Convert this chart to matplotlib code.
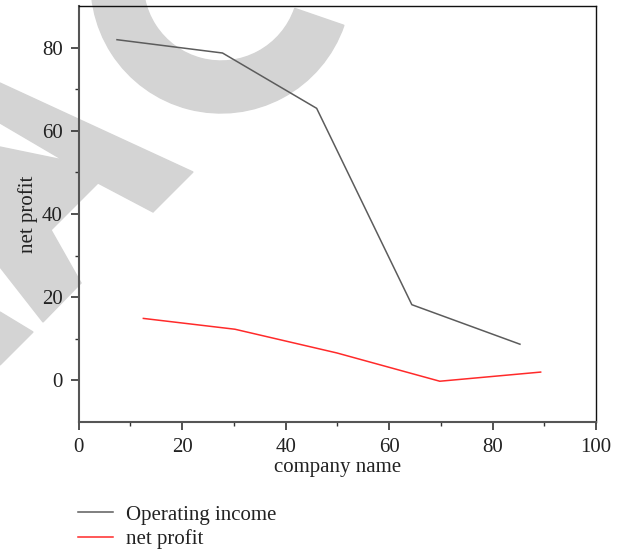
import matplotlib
matplotlib.use("Agg")
import matplotlib.pyplot as plt
from matplotlib.patches import Wedge, Polygon
from matplotlib.transforms import Affine2D

plt.rcParams['font.family'] = ['Liberation Serif', 'DejaVu Serif']

# data
income_x = [7.4, 27.8, 46.0, 64.4, 85.3]
income_y = [81.9, 78.7, 65.4, 18.2, 8.7]
profit_x = [12.5, 30.2, 49.9, 69.8, 89.3]
profit_y = [14.9, 12.3, 6.6, -0.2, 2.0]
labels = ["Operating income", "net profit"]

W, H = 624, 551
fig = plt.figure(figsize=(W / 100, H / 100), dpi=100)
ax = fig.add_axes([78.7 / W, 1 - 422 / H, (596 - 78.7) / W, (422 - 6) / H])
ax.set_facecolor('none')

# grey watermark behind the plot (pixel coords, y measured from top)
px = Affine2D().scale(1 / W, 1 / H) + fig.transFigure
wm = '#d4d4d4'
fig.add_artist(Wedge((221, H + 17), 130, 170, 341, width=52, color=wm,
                     transform=px, zorder=-1))
a_shape = [(0, 83), (193, 172), (153, 212), (98, 183), (51, 230), (81, 283),
           (43, 322), (0, 267), (0, 147), (63, 160), (0, 123)]
fig.add_artist(Polygon([(x, H - y) for x, y in a_shape], color=wm,
                       transform=px, zorder=-1))
tri = [(0, 312), (33, 332), (0, 365)]
fig.add_artist(Polygon([(x, H - y) for x, y in tri], color=wm,
                       transform=px, zorder=-1))

ax.plot(income_x, income_y, color='#5c5c5c', lw=1.1, label=labels[0])
ax.plot(profit_x, profit_y, color='#ff2a2a', lw=1.1, label=labels[1])

ax.set_xlim(0, 100)
ax.set_ylim(-10, 90)
ax.set_xticks([0, 20, 40, 60, 80, 100])
ax.set_yticks([0, 20, 40, 60, 80])
ax.set_xticks(range(10, 100, 20), minor=True)
ax.set_yticks(range(10, 90, 20), minor=True)

for s in ['left', 'bottom']:
    ax.spines[s].set_color('#555555')
    ax.spines[s].set_linewidth(1.5)
for s in ['top', 'right']:
    ax.spines[s].set_color('#111111')
    ax.spines[s].set_linewidth(1.0)

ax.tick_params(which='major', length=5.5, width=1.2, color='#333333',
               labelsize=15, labelcolor='#222222', pad=6)
ax.tick_params(which='minor', length=3, width=1.0, color='#333333')

ax.set_xlabel("company name", fontsize=15, color='#222222', labelpad=1)
ax.set_ylabel("net profit", fontsize=15, color='#222222', labelpad=3)

fig.legend(loc='upper left', bbox_to_anchor=(78 / W, 1 - 505 / H),
           frameon=False, fontsize=15, handlelength=1.7, handletextpad=0.6,
           labelspacing=0.22, borderpad=0, borderaxespad=0,
           labelcolor='#222222')

fig.savefig("out.png", dpi=100)
